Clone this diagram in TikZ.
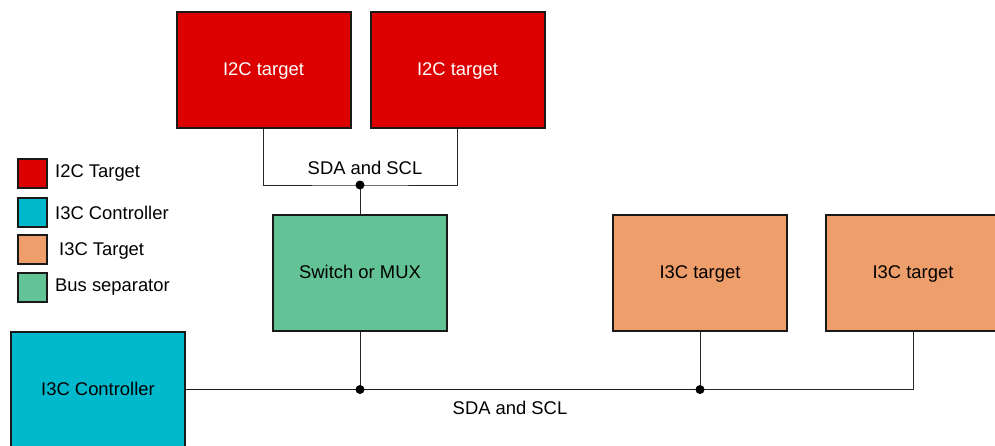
\documentclass[tikz,border=0pt]{standalone}
\usepackage{fontspec}
\setmainfont{Liberation Sans}
\definecolor{i2cred}{HTML}{DD0000}
\definecolor{i3cblue}{HTML}{00B9CC}
\definecolor{i3corange}{HTML}{EE9E6A}
\definecolor{sepgreen}{HTML}{63C396}
\tikzset{
  blk/.style={draw=black!90,line width=2pt,minimum width=174pt,minimum height=116pt,inner sep=0pt,text height=13pt,text depth=2pt},
  keybox/.style={draw=black!90,line width=2pt,minimum size=29pt,inner sep=0pt},
  keytext/.style={anchor=west,inner sep=0pt,text height=13pt,text depth=2pt},
  wire/.style={line width=1pt,black!85},
  bus/.style={line width=1.6pt,black!90},
  dot/.style={circle,fill=black,inner sep=0pt,minimum size=9pt}
}
\begin{document}
\begin{tikzpicture}[x=1pt,y=-1pt,font=\fontsize{18.4}{21}\selectfont]
\useasboundingbox (0,0) rectangle (995,445);

% targets on the I2C side
\node[blk,fill=i2cred,text=white] (i2ca) at (263.5,69.5) {I2C target};
\node[blk,fill=i2cred,text=white] (i2cb) at (457.5,69.5) {I2C target};
\node[blk,fill=sepgreen] (mux) at (360,273) {Switch or MUX};

% I3C bus
\node[blk,fill=i3cblue] (ctrl) at (98,389.5) {I3C Controller};
\node[blk,fill=i3corange] (i3ca) at (700,273) {I3C target};
\node[blk,fill=i3corange] (i3cb) at (913,273) {I3C target};

\coordinate (j1) at (360,185);
\coordinate (j2) at (mux.south |- ctrl.east);
\coordinate (j3) at (i3ca.south |- ctrl.east);
\coordinate (j4) at (i3cb.south |- ctrl.east);

\draw[wire] (i2ca.south) |- (j1) -| (i2cb.south);
\draw[wire] (j1) -- (mux.north);
\draw[wire] (mux.south) -- (j2);
\draw[bus] (ctrl.east) -- (j3);
\draw[wire] (i3ca.south) -- (j3) -- (j4) -- (i3cb.south);

\node[dot] (d1) at (j1) {};
\node[dot] (d2) at (j2) {};
\node[dot] (d3) at (j3) {};

\node (sda1) at (365,167.5) {SDA and SCL};
\node (sda2) at (510,407.5) {SDA and SCL};

% legend
\node[keybox,fill=i2cred] (k1) at (32,173) {};
\node[keybox,fill=i3cblue] (k2) at (32,212) {};
\node[keybox,fill=i3corange] (k3) at (32,249.5) {};
\node[keybox,fill=sepgreen] (k4) at (32,287) {};
\node[keytext] (t1) at (55,172) {I2C Target};
\node[keytext] (t2) at (55,214) {I3C Controller};
\node[keytext] (t3) at (59,250) {I3C Target};
\node[keytext] (t4) at (55,286) {Bus separator};
\end{tikzpicture}
\end{document}
